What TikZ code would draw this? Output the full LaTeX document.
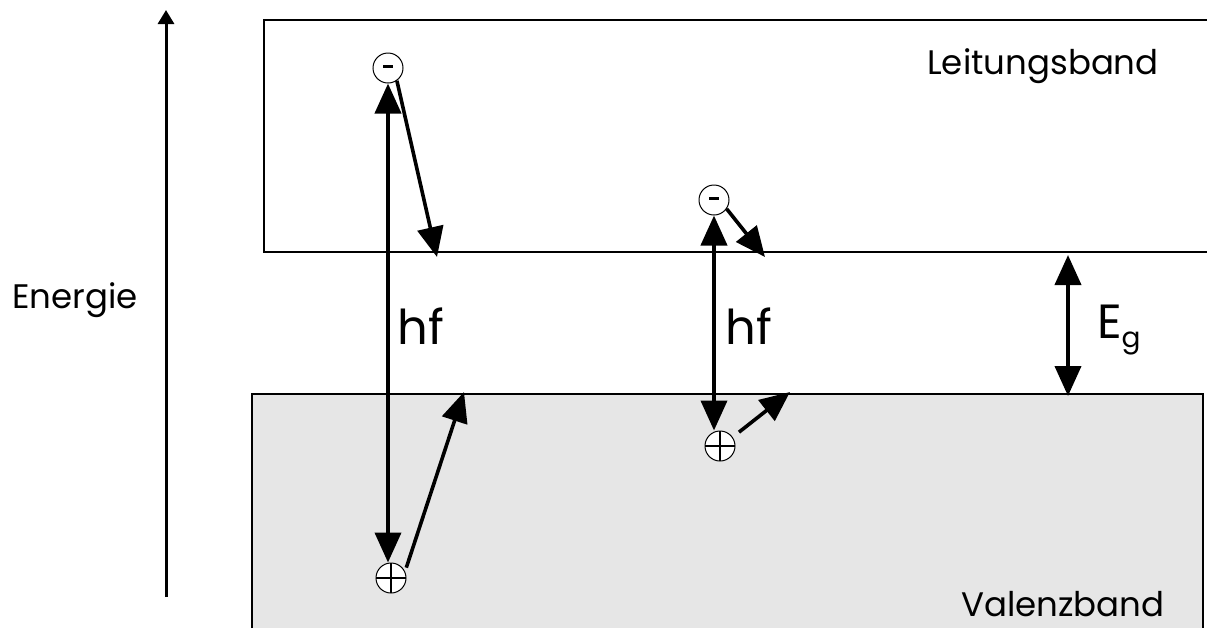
\documentclass[tikz,border=0pt]{standalone}
\usepackage{fontspec}
\setmainfont{Poppins}
\usetikzlibrary{arrows.meta,calc}
\definecolor{blk}{HTML}{000000}
\definecolor{band}{HTML}{E6E6E6}
\tikzset{
  >={Triangle[length=15pt,width=13pt]},
  edge/.style={draw=blk, line width=0.8pt},
  charge/.style={draw=blk, circle, line width=0.5pt, minimum size=15pt, inner sep=0pt, fill=white},
  hole/.style={charge, path picture={\draw[line width=1pt]
      (path picture bounding box.west) -- (path picture bounding box.east)
      (path picture bounding box.north) -- (path picture bounding box.south);}},
  jump/.style={<->, line width=2pt, draw=blk},
  relax/.style={->, line width=1.8pt, draw=blk},
  lbl/.style={font=\fontsize{17}{20}\selectfont},
  big/.style={font=\fontsize{24}{28}\selectfont},
}
\newcommand{\minussign}{\rule[1.5pt]{5pt}{1.5pt}}
\begin{document}
\begin{tikzpicture}[x=0.5pt,y=-0.5pt]
  \useasboundingbox (0,0) rectangle (1207,628);
  \fill[band] (252,394) rectangle (1203,628);
  \draw[edge] (252,628) -- (252,394) -- (1203,394) -- (1203,628);
  \draw[edge] (1207,20) -- (264,20) -- (264,252) -- (1207,252);
  \node[lbl] (energie) at (75,300) {Energie};
  \node[lbl] (lb) at (1043,66) {Leitungsband};
  \node[lbl] (vb) at (1063,604) {Valenzband};
  \node[charge] (e1) at (388,68) {\minussign};
  \node[hole] (h1) at (391,578) {};
  \node[charge] (e2) at (714,200) {\minussign};
  \node[hole] (h2) at (720,446) {};
  \node[big] (hf1) at (421,326) {hf};
  \node[big] (hf2) at (749,326) {hf};
  \node[big, anchor=base west] (eg) at (1090,338) {E\raisebox{-0.35ex}{\fontsize{14}{16}\selectfont g}};
  \coordinate (t1) at (437,257);
  \coordinate (t2) at (464,392);
  \coordinate (t3) at (765,257);
  \coordinate (t4) at (790,392);
  \coordinate (gtop) at (1068,255);
  \coordinate (gbot) at (1068,396);
  \coordinate (ebot) at (166,597);
  \coordinate (etop) at (166,10);
  \draw[->, line width=1.5pt, >={Triangle[length=7pt,width=8pt]}] (ebot) -- (etop);
  \draw[jump] (e1.south) -- (e1.south |- h1.north);
  \draw[relax] (e1.-55) -- (t1);
  \draw[relax, shorten <=2pt] (h1.25) -- (t2);
  \draw[jump] (e2.south) -- (e2.south |- h2.north);
  \draw[relax] (e2.-35) -- (t3);
  \draw[relax, shorten <=4pt] (h2.35) -- (t4);
  \draw[jump] (gtop) -- (gbot);
\end{tikzpicture}
\end{document}
